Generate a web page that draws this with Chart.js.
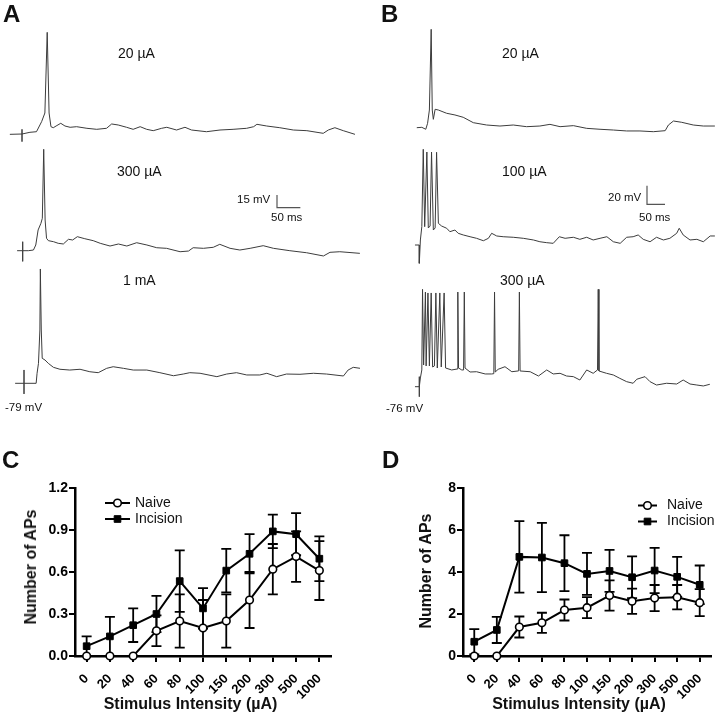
<!DOCTYPE html>
<html>
<head>
<meta charset="utf-8">
<script src="https://cdn.jsdelivr.net/npm/chart.js@4.4.1/dist/chart.umd.min.js"></script>
<style>
  body { margin: 0; background: #fff; }
  #fig { position: relative; width: 720px; height: 715px; overflow: hidden; background: #fff;
         font-family: "Liberation Sans", Arial, sans-serif; }
  #fig canvas { position: absolute; }
  .txt { position: absolute; white-space: nowrap; line-height: 1; color: #111; }
</style>
</head>
<body>
<div id="fig"></div>
<script>
// ---- data: stimulus intensities (µA) ----
const intensities = ["0", "20", "40", "60", "80", "100", "150", "200", "300", "500", "1000"];

// panel C: number of APs (mean and error)
const naiveC      = [0, 0, 0, 0.18, 0.25, 0.20, 0.25, 0.40, 0.62, 0.71, 0.61];
const naiveErrC   = [0, 0, 0, 0.11, 0.19, 0.20, 0.19, 0.20, 0.18, 0.18, 0.21];
const incisionC   = [0.07, 0.14, 0.22, 0.30, 0.535, 0.34, 0.61, 0.73, 0.89, 0.87, 0.695];
const incisionErrC= [0.07, 0.14, 0.12, 0.13, 0.22, 0.145, 0.155, 0.14, 0.12, 0.15, 0.16];
const yTicksC = [0, 0.3, 0.6, 0.9, 1.2];

// panel D
const naiveD      = [0, 0, 1.38, 1.58, 2.19, 2.30, 2.88, 2.61, 2.76, 2.80, 2.54];
const naiveErrD   = [0, 0, 0.50, 0.48, 0.50, 0.50, 0.72, 0.60, 0.62, 0.58, 0.64];
const incisionD   = [0.68, 1.24, 4.72, 4.69, 4.42, 3.91, 4.05, 3.75, 4.07, 3.77, 3.39];
const incisionErrD= [0.60, 0.62, 1.70, 1.65, 1.33, 1.00, 1.00, 0.99, 1.08, 0.95, 0.92];
const yTicksD = [0, 2, 4, 6, 8];

// recordings: [time after stimulus (ms), membrane potential above rest (mV)]
const traceA20 = [[-26,-0.4],[0,0],[0,5.5],[0,-9],[0,0],[17,2],[31,2.7],[42,14.5],[49,24.7],[54,119.6],[58,24.7],[62,8.6],[67,7.4],[73,9.4],[83,12.6],[92,9.4],[103,7.9],[117,8.6],[139,6.7],[160,5.5],[181,6.7],[192,11.8],[206,10.6],[224,7.9],[238,5.5],[253,8.6],[267,5.5],[281,3.9],[299,6.7],[310,7.9],[331,4.7],[349,7.9],[363,4.7],[395,2.7],[424,4.7],[452,5.5],[481,6.7],[496,8.6],[503,11.4],[524,9.4],[552,7.4],[581,4.7],[610,3.9],[645,0.8],[656,4.7],[670,7.4],[688,3.9],[713,-0.4]];
const traceA300 = [[-12,0],[0,0],[0,10.6],[0,-12.6],[0,0],[12,0],[23,0.8],[28,6.7],[33,24.4],[39,32.2],[42,38.1],[45,119.3],[48,36.1],[51,14.6],[55,11.8],[66,10.6],[76,8.7],[87,7.9],[98,13.4],[107,12.6],[117,16.5],[133,14.1],[151,11.8],[166,8.7],[187,5.5],[205,7.9],[223,5.5],[244,9.4],[266,6.7],[287,3.5],[308,2.8],[337,-1.2],[355,-0.4],[365,3.5],[387,2.8],[408,4],[422,7.5],[444,2.8],[465,0.8],[487,2.8],[515,5.9],[537,2.8],[572,0],[608,-2.4],[644,-6.2],[658,-1.9],[679,-1.2],[722,-3.1]];
const traceA1000 = [[-19,0],[0,0],[0,15.7],[0,-12.5],[0,0],[26,0],[28,11.8],[31,23.5],[34,62.7],[35,134.5],[37,62.7],[39,29.4],[45,27.4],[52,23.5],[63,18.8],[77,16.5],[98,15.6],[120,16.5],[141,13.6],[159,12.5],[177,17.6],[191,19.5],[213,17.6],[234,15.6],[263,15.6],[291,12.5],[320,8.9],[341,10.9],[355,12.5],[377,11.8],[413,7.8],[434,10.9],[455,12.5],[477,9.8],[505,9.8],[520,11.8],[541,7.8],[562,10.9],[591,10.6],[620,11.8],[648,10.9],[684,8.6],[694,15.6],[705,18.8],[720,17.6]];
const traceB20 = [[-7,0],[7,0.4],[18,-1.7],[23,4.7],[28,19],[33,105.8],[36,19],[39,9],[44,19.8],[53,19],[76,15.5],[99,13.7],[122,11.2],[150,5.4],[187,2.9],[224,1.8],[261,2.9],[298,1.1],[335,1.8],[363,3.6],[391,1.1],[428,2.2],[465,-0.7],[502,-1.7],[539,-2.5],[576,-3.5],[613,-3.5],[650,-4.3],[683,-3.2],[692,2.9],[706,7.2],[729,5.8],[761,2.9],[789,1.8],[821,1.8]];
const traceB100 = [[-12,0],[0,0],[0,-19.7],[3,5.4],[7,19.7],[11,102.9],[15,19.7],[21,100],[25,18.3],[30,20.4],[34,100],[39,16.1],[44,18.3],[48,99.7],[53,23.3],[62,20.4],[76,18],[85,14.3],[99,16.1],[108,12.6],[122,10.8],[141,8.9],[159,7.2],[178,4.6],[192,7.2],[201,12.6],[215,9.7],[233,8.9],[261,8.3],[289,7.2],[317,5.4],[335,3.5],[354,2.5],[372,1.8],[389,8.9],[405,7.2],[428,8.3],[446,6.1],[465,8.3],[483,5.4],[502,7.2],[521,8.9],[539,3.5],[558,1.8],[576,8.3],[594,8.9],[608,10.8],[622,6.1],[641,3.5],[659,8.3],[678,5.4],[696,7.2],[715,12.6],[722,18],[733,10.8],[752,5.4],[771,6.1],[789,3.5],[808,9.7],[821,9.7]];
const traceB300 = [[-12,0],[0,0],[0,10.8],[0,-10.8],[0,0],[3,9.4],[7,18],[9,104.7],[12,23.3],[17,101.8],[19,22.3],[24,100.8],[28,22.3],[33,100.8],[37,21.2],[42,22.3],[46,100.8],[50,20.1],[57,100.8],[61,21.2],[69,100.8],[73,20.1],[90,18],[105,19],[107,101.8],[109,20.1],[118,18],[123,18],[125,101.8],[127,20.1],[141,15.8],[159,16.1],[183,13.7],[201,13.7],[207,14],[209,101.8],[211,15.8],[219,18.7],[238,21.5],[257,16.1],[276,17],[278,101.8],[280,16.9],[308,16.1],[331,11.5],[354,18],[372,13.7],[391,14.4],[409,11.5],[428,10.8],[446,7.2],[465,18],[483,14.4],[495,18],[497,104.7],[499,16.9],[520,14.4],[539,12.6],[557,9],[576,5.4],[594,3.7],[604,8],[627,10.8],[641,5.4],[659,1.8],[687,3.7],[715,2.9],[733,7.2],[752,2.9],[771,1.8],[789,0.8],[807,2.6]];

// scale bars: [ms, mV]
const scaleBarA = [50, 15];
const scaleBarB = [50, 20];

Chart.defaults.font.family = '"Liberation Sans", Arial, sans-serif';
Chart.defaults.color = '#000';

const fig = document.getElementById('fig');

function addCanvas(left, top, w, h) {
  const c = document.createElement('canvas');
  c.width = w; c.height = h;
  c.style.left = left + 'px'; c.style.top = top + 'px';
  c.style.width = w + 'px'; c.style.height = h + 'px';
  fig.appendChild(c);
  return c;
}

function addText(str, x, baseline, size, bold) {
  const d = document.createElement('div');
  d.className = 'txt';
  d.textContent = str;
  d.style.fontSize = size + 'px';
  d.style.fontWeight = bold ? 'bold' : 'normal';
  d.style.left = x + 'px';
  d.style.top = (baseline - 0.846 * size) + 'px';
  fig.appendChild(d);
  return d;
}

// ---- recordings (A, B) ----
const traces = [
  { data: traceA20,   left: 0,   top: 20,  w: 360, h: 130, stimX: 22,    baseY: 134,   pxMs: 0.467, pxMv: 0.85 },
  { data: traceA300,  left: 0,   top: 140, w: 360, h: 130, stimX: 22.7,  baseY: 250.7, pxMs: 0.467, pxMv: 0.85,
    bar: scaleBarA, barAt: [277, 207.7] },
  { data: traceA1000, left: 0,   top: 255, w: 360, h: 145, stimX: 24,    baseY: 383.3, pxMs: 0.467, pxMv: 0.85 },
  { data: traceB20,   left: 360, top: 20,  w: 360, h: 125, stimX: 419.3, baseY: 127.7, pxMs: 0.36,  pxMv: 0.93 },
  { data: traceB100,  left: 360, top: 140, w: 360, h: 130, stimX: 419.3, baseY: 245,   pxMs: 0.36,  pxMv: 0.93,
    bar: scaleBarB, barAt: [647, 204.3] },
  { data: traceB300,  left: 360, top: 280, w: 360, h: 125, stimX: 419.3, baseY: 386.7, pxMs: 0.36,  pxMv: 0.93 },
];

traces.forEach(tr => {
  const cv = addCanvas(tr.left, tr.top, tr.w, tr.h);
  const xMin = -(tr.stimX - tr.left) / tr.pxMs;
  const xMax = xMin + tr.w / tr.pxMs;
  const yMax = (tr.baseY - tr.top) / tr.pxMv;
  const yMin = -(tr.top + tr.h - tr.baseY) / tr.pxMv;
  const datasets = [{
    data: tr.data.map(p => ({ x: p[0], y: p[1] })),
    showLine: true, borderColor: '#3c3c3c', borderWidth: 1, pointRadius: 0, tension: 0
  }];
  if (tr.bar) {
    const bx = xMin + (tr.barAt[0] - tr.left) / tr.pxMs;
    const by = (tr.baseY - tr.barAt[1]) / tr.pxMv;
    datasets.push({
      data: [{ x: bx, y: by + tr.bar[1] }, { x: bx, y: by }, { x: bx + tr.bar[0], y: by }],
      showLine: true, borderColor: '#555', borderWidth: 1.2, pointRadius: 0, tension: 0
    });
  }
  new Chart(cv, {
    type: 'scatter',
    data: { datasets },
    options: {
      responsive: false, animation: false, devicePixelRatio: 1,
      layout: { padding: 0 },
      plugins: { legend: { display: false }, tooltip: { enabled: false } },
      scales: {
        x: { type: 'linear', display: false, min: xMin, max: xMax },
        y: { type: 'linear', display: false, min: yMin, max: yMax }
      }
    }
  });
});

// ---- summary plots (C, D) ----
const errorBars = {
  id: 'errorBars',
  beforeDatasetsDraw(chart) {
    const ctx = chart.ctx, ys = chart.scales.y;
    chart.data.datasets.forEach((ds, i) => {
      const meta = chart.getDatasetMeta(i);
      ctx.save();
      ctx.strokeStyle = '#000';
      ctx.lineWidth = 1.8;
      meta.data.forEach((pt, j) => {
        const e = ds.errors[j];
        if (!e) return;
        const v = ds.data[j];
        const yt = ys.getPixelForValue(v + e);
        const yb = ys.getPixelForValue(Math.max(0, v - e));
        const x = pt.x;
        ctx.beginPath();
        ctx.moveTo(x, yt); ctx.lineTo(x, yb);
        ctx.moveTo(x - 5, yt); ctx.lineTo(x + 5, yt);
        if (v - e > 0) { ctx.moveTo(x - 5, yb); ctx.lineTo(x + 5, yb); }
        ctx.stroke();
      });
      ctx.restore();
    });
  }
};

const insideLegend = {
  id: 'insideLegend',
  afterDraw(chart, args, opts) {
    const ctx = chart.ctx;
    chart.data.datasets.forEach((ds, i) => {
      const y = opts.y + i * opts.gap;
      ctx.save();
      ctx.strokeStyle = '#000';
      ctx.lineWidth = 2;
      ctx.beginPath();
      ctx.moveTo(opts.x, y); ctx.lineTo(opts.x + opts.len, y);
      ctx.stroke();
      ctx.fillStyle = ds.pointBackgroundColor;
      ctx.strokeStyle = ds.pointBorderColor;
      ctx.lineWidth = ds.pointBorderWidth;
      Chart.helpers.drawPoint(ctx, {
        pointStyle: ds.pointStyle, rotation: 0, radius: ds.pointRadius, borderWidth: ds.pointBorderWidth
      }, opts.x + opts.len / 2, y);
      ctx.fillStyle = '#111';
      ctx.font = '14px "Liberation Sans", Arial, sans-serif';
      ctx.textBaseline = 'middle';
      ctx.textAlign = 'left';
      ctx.fillText(ds.label, opts.x + opts.len + opts.textGap, y);
      ctx.restore();
    });
  }
};

function summaryChart(cv, naive, naiveErr, inc, incErr, yTicks, yAxisW, padRight, decimals, legendOpts) {
  const tickVals = yTicks.slice();
  return new Chart(cv, {
    type: 'line',
    data: {
      labels: intensities,
      datasets: [
        { label: 'Naive', data: naive, errors: naiveErr, borderColor: '#000', borderWidth: 2,
          pointStyle: 'circle', pointRadius: 3.8, pointBackgroundColor: '#fff',
          pointBorderColor: '#000', pointBorderWidth: 1.6, tension: 0, clip: false },
        { label: 'Incision', data: inc, errors: incErr, borderColor: '#000', borderWidth: 2,
          pointStyle: 'rect', pointRadius: 4.7, pointBackgroundColor: '#000',
          pointBorderColor: '#000', pointBorderWidth: 1, tension: 0, clip: false }
      ]
    },
    options: {
      responsive: false, animation: false, devicePixelRatio: 1,
      layout: { padding: { left: 0, right: padRight, top: 18, bottom: 0 } },
      plugins: { legend: { display: false }, tooltip: { enabled: false }, insideLegend: legendOpts },
      scales: {
        x: {
          type: 'category', offset: true,
          grid: { drawOnChartArea: false, drawTicks: true, tickLength: 6, color: '#000', lineWidth: 2 },
          border: { display: true, color: '#000', width: 2.5 },
          ticks: { autoSkip: false, minRotation: 45, maxRotation: 45, padding: 9,
                   font: { size: 13, weight: 'bold' }, color: '#000' },
          afterFit: s => { s.height = 59; }
        },
        y: {
          min: tickVals[0], max: tickVals[tickVals.length - 1],
          afterBuildTicks: s => { s.ticks = tickVals.map(v => ({ value: v })); },
          grid: { drawOnChartArea: false, drawTicks: true, tickLength: 6, color: '#000', lineWidth: 2 },
          border: { display: true, color: '#000', width: 2.5 },
          ticks: { padding: 1, font: { size: 14, weight: 'bold' }, color: '#000',
                   callback: v => Number(v).toFixed(decimals) },
          afterFit: s => { s.width = yAxisW; }
        }
      }
    },
    plugins: [errorBars, insideLegend]
  });
}

summaryChart(addCanvas(0, 470, 340, 245), naiveC, naiveErrC, incisionC, incisionErrC, yTicksC, 75, 9, 1,
  { x: 105, y: 33, gap: 16, len: 25, textGap: 5 });
summaryChart(addCanvas(360, 470, 360, 245), naiveD, naiveErrD, incisionD, incisionErrD, yTicksD, 103, 3.5, 0,
  { x: 278, y: 35.5, gap: 16, len: 19, textGap: 10 });

// ---- text ----
addText('A', 3, 22, 24, true);
addText('B', 381, 22, 24, true);
addText('C', 2, 468, 24, true);
addText('D', 382, 468, 24, true);

addText('20 \u00b5A', 118, 58, 14);
addText('300 \u00b5A', 117, 176, 14);
addText('1 mA', 123, 285, 14);
addText('15 mV', 237, 203.5, 11.5);
addText('50 ms', 271, 222, 11.5);
addText('-79 mV', 5, 412, 11.5);

addText('20 \u00b5A', 502, 58, 14);
addText('100 \u00b5A', 502, 176, 14);
addText('300 \u00b5A', 500, 285, 14);
addText('20 mV', 608, 201.5, 11.5);
addText('50 ms', 639, 222, 11.5);
addText('-76 mV', 386, 413, 11.5);

function axisTitleX(str, cx, baseline) {
  const d = addText(str, cx, baseline, 16, true);
  d.style.transform = 'translateX(-50%)';
}
function axisTitleY(str, cx, cy) {
  const d = addText(str, cx, cy, 16, true);
  d.style.top = cy + 'px';
  d.style.transform = 'translate(-50%, -50%) rotate(-90deg)';
}
axisTitleX('Stimulus Intensity (\u00b5A)', 190.5, 710);
axisTitleX('Stimulus Intensity (\u00b5A)', 579, 710);
axisTitleY('Number of APs', 31, 567);
axisTitleY('Number of APs', 426, 571);
</script>
</body>
</html>
